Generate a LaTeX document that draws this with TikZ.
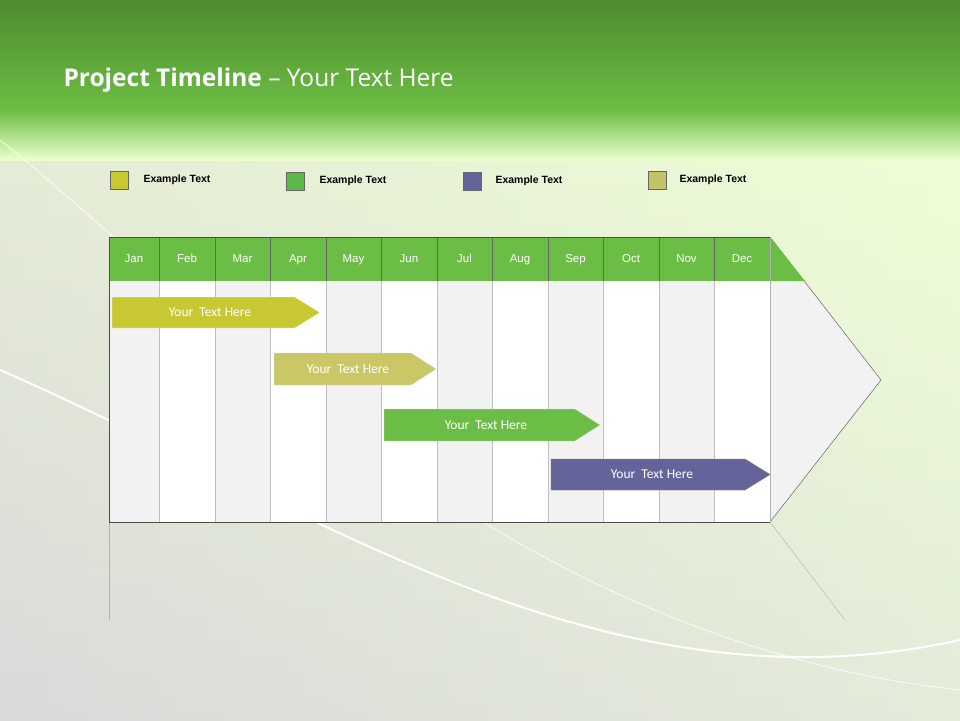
\documentclass[tikz,border=0pt]{standalone}
\usepackage{fontspec}
\setmainfont{Liberation Sans}
\newfontfamily\titlefont{Open Sans}
\newfontfamily\barfont{Carlito}
\definecolor{gA}{RGB}{108,189,69}
\definecolor{gD}{RGB}{78,140,45}
\definecolor{cY}{RGB}{200,200,50}
\definecolor{cG}{RGB}{92,184,72}
\definecolor{cP}{RGB}{100,100,154}
\definecolor{cO}{RGB}{194,194,102}
\definecolor{cO2}{RGB}{201,199,102}
\begin{document}
\begin{tikzpicture}[x=1pt,y=-1pt,
  legbox/.style={draw=black!60,line width=0.4pt,minimum width=18pt,minimum height=18pt,inner sep=0},
  legtxt/.style={anchor=west,font=\bfseries\fontsize{10.5}{13}\selectfont},
  month/.style={font=\fontsize{11.5}{13}\selectfont,text=white,text height=8.5pt,text depth=2pt},
  bartxt/.style={font=\barfont\fontsize{13.5}{16}\selectfont,text=white}]
\useasboundingbox (0,0) rectangle (960,720);
% background
\shade[left color=gray!35,right color=green!45!yellow!18] (0,120) rectangle (960,720);
\shade[top color=green!35!yellow!15,bottom color=gray!25,opacity=0.6] (0,120) rectangle (960,720);
\shade[top color=gD,bottom color=gA] (0,0) rectangle (960,110);
\shade[top color=gA,bottom color=green!40!yellow!20] (0,110) rectangle (960,160);
\draw[white,line width=2pt] (0,370) .. controls (300,500) and (600,720) .. (960,640);
\draw[white,line width=1pt,opacity=0.7] (0,140) .. controls (200,300) and (500,640) .. (960,690);
% title
\node[anchor=west,text=white,font=\titlefont\fontsize{24.5}{30}\selectfont] (title) at (60,80) {\textbf{Project Timeline} – Your Text Here};
% legend
\node[legbox,fill=cY] (l1) at (119,180) {};
\node[legtxt] (t1) at (140,180) {Example Text};
\node[legbox,fill=cG] (l2) at (295,181) {};
\node[legtxt] (t2) at (316,181) {Example Text};
\node[legbox,fill=cP] (l3) at (472,181) {};
\node[legtxt] (t3) at (492,181) {Example Text};
\node[legbox,fill=cO] (l4) at (657,180) {};
\node[legtxt] (t4) at (676,180) {Example Text};
% reflection
\draw[gray!60] (109,522) -- (109,620);
\draw[gray!60] (770,522) -- (845,620);
% arrow
\fill[white!95!black] (770,237) -- (881,380) -- (770,522) -- cycle;
\draw[black!70] (770,237) -- (881,380) -- (770,522);
\fill[gA] (770,237) -- (805,281) -- (770,281) -- cycle;
% columns
\foreach \a/\b/\m [count=\i] in {109/159/Jan,159/215/Feb,215/270/Mar,270/326/Apr,326/381/May,381/437/Jun,437/492/Jul,492/548/Aug,548/603/Sep,603/659/Oct,659/714/Nov,714/770/Dec}{
  \ifodd\i \def\cc{white!95!black}\else\def\cc{white}\fi
  \fill[\cc] (\a,281) rectangle (\b,522);
  \draw[gray!50] (\a,281) -- (\a,522);
  \fill[gA] (\a,237) rectangle (\b,281);
  \draw[black!60] (\a,237) -- (\a,281);
  \node[month] (m\i) at ({(\a+\b)/2},259) {\m};
}
\draw[black!70] (109,237) -- (770,237);
\draw[black!70] (109,237) -- (109,522) -- (770,522);
\draw[gray!60] (770,237) -- (770,522);
% bars
\fill[cY,draw=white] (112,297) -- (295,297) -- (320,312.5) -- (295,328) -- (112,328) -- cycle;
\node[bartxt] (b1) at (210,312.5) {Your\ \ Text Here};
\fill[cO2,draw=white!70!gray] (274,353) -- (411,353) -- (436,369) -- (411,385) -- (274,385) -- cycle;
\node[bartxt] (b2) at (348,369) {Your\ \ Text Here};
\fill[gA,draw=white!70!gray] (384,409) -- (575,409) -- (600,425) -- (575,441) -- (384,441) -- cycle;
\node[bartxt] (b3) at (486,425) {Your\ \ Text Here};
\fill[cP,draw=black!50] (551,459) -- (745,459) -- (770,474.5) -- (745,490) -- (551,490) -- cycle;
\node[bartxt] (b4) at (652,474.5) {Your\ \ Text Here};
\end{tikzpicture}
\end{document}
